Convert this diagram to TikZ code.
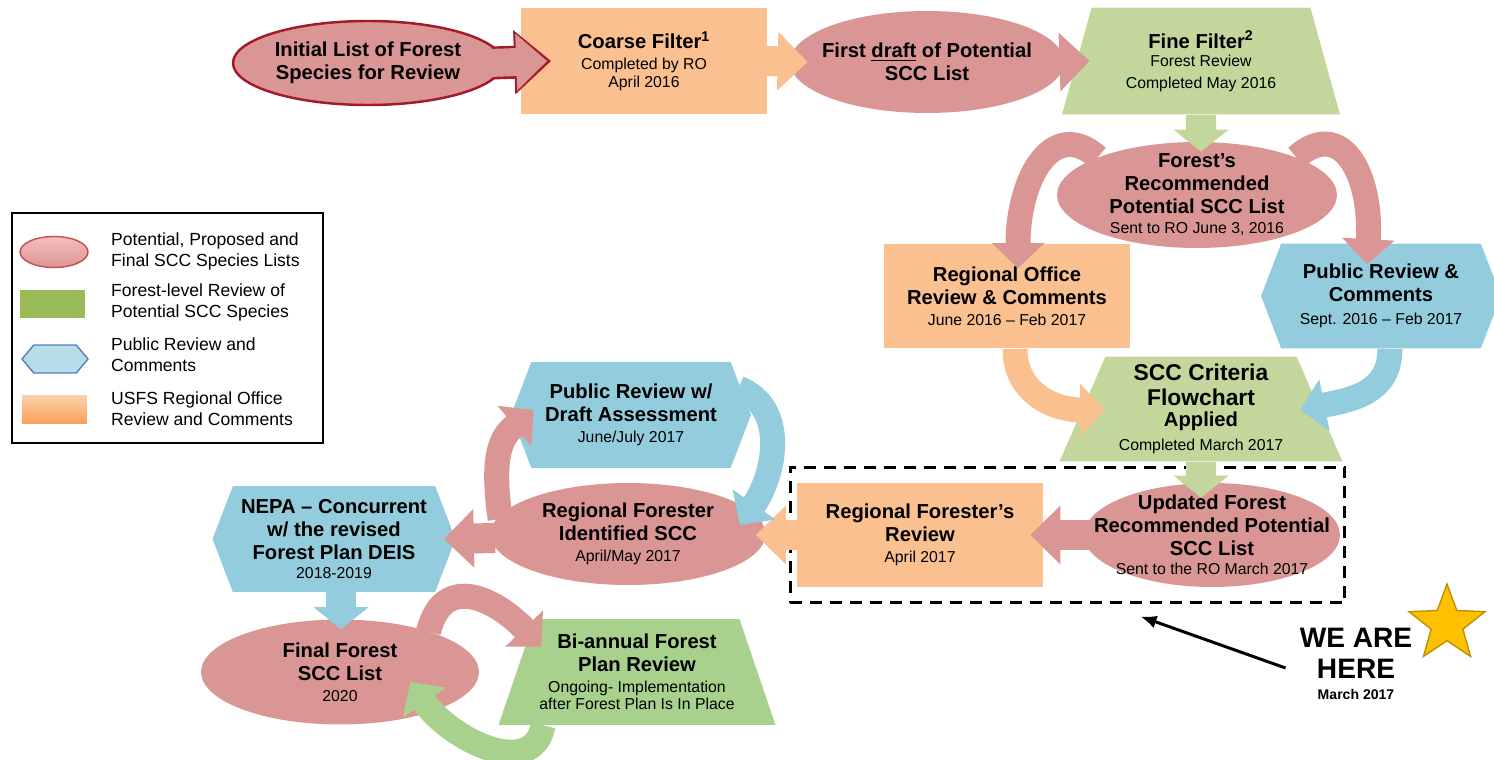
\documentclass[tikz,border=0pt]{standalone}
\usepackage{fontspec}
\setmainfont{Liberation Sans}
\usetikzlibrary{shapes.geometric,shapes.symbols,arrows.meta,calc}

\definecolor{listpink}{RGB}{217,150,148}
\definecolor{listred}{RGB}{165,25,45}
\definecolor{offorange}{RGB}{250,192,144}
\definecolor{revgreen}{RGB}{195,214,155}
\definecolor{plangreen}{RGB}{169,209,142}
\definecolor{pubblue}{RGB}{147,205,221}
\definecolor{legred}{RGB}{192,80,77}
\definecolor{legpinklight}{RGB}{245,190,188}
\definecolor{leggreen}{RGB}{155,187,89}
\definecolor{legblue}{RGB}{183,221,232}
\definecolor{legblueline}{RGB}{79,129,189}
\definecolor{legorangelight}{RGB}{252,210,172}
\definecolor{legorange}{RGB}{247,160,90}
\definecolor{stargold}{RGB}{255,192,0}
\definecolor{stargoldline}{RGB}{191,144,0}

\newcommand{\when}[1]{{\fontsize{9}{13}\selectfont\mdseries #1}}

\tikzset{
  lst/.style={ellipse, fill=listpink, inner xsep=-1cm, inner ysep=-0.5cm, align=center},
  office/.style={rectangle, fill=offorange, inner sep=0pt, align=center},
  review/.style={trapezium, trapezium stretches body, fill=revgreen, inner sep=0pt, align=center},
  public/.style={signal, signal to=east and west, signal pointer angle=138, fill=pubblue, inner sep=0pt, align=center},
  flowarr/.style={line width=0.6cm, -{Triangle[width=1.14cm,length=0.6cm]}},
  curvearr/.style={line width=0.5cm, -{Triangle[width=1.02cm,length=0.5cm]}},
  legtxt/.style={anchor=west, align=left, font=\fontsize{10}{12}\selectfont}
}

\begin{document}
\begin{tikzpicture}[x=0.02cm,y=-0.02cm,font=\fontsize{11.5}{13}\selectfont\bfseries]
\useasboundingbox (0,0) rectangle (1494,760);
%Legende
\node[draw, line width=1pt, minimum width=6.22cm, minimum height=4.6cm] (legend) at (167.5,328) {};
\node[ellipse, top color=legpinklight, bottom color=listpink, draw=legred, line width=0.8pt, minimum width=1.36cm, minimum height=0.62cm] (legell) at (54,252) {};
\node[trapezium, trapezium stretches body, trapezium left angle=63, trapezium right angle=63, fill=leggreen, minimum width=1.3cm, minimum height=0.56cm, inner sep=0pt] (legtrap) at (52.5,304) {};
\node[signal, signal to=east and west, signal pointer angle=100, fill=legblue, draw=legblueline, line width=0.8pt, minimum width=1.32cm, minimum height=0.56cm, inner sep=0pt] (leghex) at (55,359) {};
\node[top color=legorangelight, bottom color=legorange, minimum width=1.3cm, minimum height=0.58cm, inner sep=0pt] (legrect) at (54.5,409.5) {};
\node[legtxt] (legt1) at (105,251.5) {Potential, Proposed and\\Final SCC Species Lists};
\node[legtxt] (legt2) at (105,302) {Forest-level Review of\\Potential SCC Species};
\node[legtxt] (legt3) at (105,355) {Public Review and\\Comments};
\node[legtxt] (legt4) at (105,408.5) {USFS Regional Office\\Review and Comments};

%Etapes du processus
\node[lst, draw=listred, line width=1.4pt, minimum width=5.4cm, minimum height=1.68cm] (init) at (368,63) {Initial List of Forest\\Species for Review};
\node[office, minimum width=4.94cm, minimum height=2.14cm] (coarse) at (644,61) {Coarse Filter\textsuperscript{1}\\[-1pt]\when{Completed by RO}\\[-3pt]\when{April 2016}};
\node[lst, minimum width=5.48cm, minimum height=2.04cm] (draft) at (927,62) {First \underline{draft} of Potential\\SCC List};
\node[review, trapezium left angle=64, trapezium right angle=64, minimum width=5.56cm, minimum height=2.14cm] (fine) at (1201,61) {Fine Filter\textsuperscript{2}\\[-2.8pt]\when{Forest Review}\\[-0.5pt]\when{Completed May 2016}};
\node[lst, minimum width=5.6cm, minimum height=2.12cm] (recom) at (1197,195) {Forest’s\\Recommended\\Potential SCC List\\[-1.5pt]\when{Sent to RO June 3, 2016}};
\node[office, minimum width=4.92cm, minimum height=2.1cm] (rooffice) at (1007,296) {Regional Office\\Review \& Comments\\[-1pt]\when{June 2016 – Feb 2017}};
\node[public, minimum width=4.8cm, minimum height=2.1cm] (pubrev) at (1381,296) {Public Review \&\\Comments\\[0pt]\when{Sept. 2016 – Feb 2017}};
\node[review, trapezium left angle=63, trapezium right angle=63, minimum width=5.66cm, minimum height=2.1cm] (criteria) at (1201,409) {{\fontsize{13}{15}\selectfont SCC Criteria}\\[1pt]{\fontsize{13}{15}\selectfont Flowchart}\\[-1pt]Applied\\[1pt]\when{Completed March 2017}};
\node[lst, minimum width=5.12cm, minimum height=2.08cm] (updated) at (1212,535) {Updated Forest\\Recommended Potential\\SCC List\\[-2pt]\when{Sent to the RO March 2017}};
\node[office, minimum width=4.92cm, minimum height=2.1cm] (rfreview) at (920,535) {Regional Forester’s\\Review\\[-1pt]\when{April 2017}};
\node[lst, minimum width=5.5cm, minimum height=2.04cm] (rfident) at (628,534) {Regional Forester\\Identified SCC\\[-1pt]\when{April/May 2017}};
\node[public, minimum width=4.8cm, minimum height=2.12cm] (pubdraft) at (631,415) {Public Review w/\\Draft Assessment\\[-1pt]\when{June/July 2017}};
\node[public, minimum width=4.86cm, minimum height=2.12cm] (nepa) at (334,539) {NEPA – Concurrent\\w/ the revised\\Forest Plan DEIS\\[-2pt]\when{2018-2019}};
\node[lst, minimum width=5.56cm, minimum height=2.1cm] (final) at (340,672) {Final Forest\\SCC List\\[-1pt]\when{2020}};
\node[review, fill=plangreen, trapezium left angle=64.7, trapezium right angle=64.7, minimum width=5.54cm, minimum height=2.12cm] (biannual) at (637,672) {Bi-annual Forest\\Plan Review\\[-1pt]\when{Ongoing- Implementation}\\[-3pt]\when{after Forest Plan Is In Place}};

%Cadre et etoile
\node[draw, dash pattern=on 0.24cm off 0.16cm, line width=1.7pt, minimum width=11.1cm, minimum height=2.72cm] (frame) at (1067.5,535) {};
\node[star, star points=5, star point ratio=2.4, fill=stargold, draw=stargoldline, line width=0.8pt, minimum size=1.6cm, inner sep=0pt] (star) at (1447,624) {};
\node[align=center, font=\fontsize{16}{17.6}\selectfont\bfseries] (here) at (1356,664) {WE ARE\\HERE\\[-6pt]{\fontsize{8}{17.6}\selectfont March 2017}};

%Fleches droites
\draw[listred, line width=0.66cm, -{Triangle[width=1.24cm,length=0.74cm]}] ($(init.east)+(-12,0)$) -- ($(coarse.west)+(31,0)$);
\draw[listpink, line width=0.56cm, -{Triangle[width=1.1cm,length=0.62cm]}] ($(init.east)+(-15,0)$) -- ($(coarse.west)+(27,0)$);
\draw[flowarr, offorange] ($(coarse.east)+(-2,0)$) -- ($(draft.west)+(18,0)$);
\draw[flowarr, listpink] ($(draft.east)+(-5,0)$) -- ($(fine.west)+(13,0)$);
\draw[flowarr, revgreen, -{Triangle[width=1.08cm,length=0.44cm]}] (fine.south) -- ($(recom.north)+(4,10)$);
\draw[flowarr, revgreen, -{Triangle[width=1.08cm,length=0.44cm]}] (criteria.south) -- ($(updated.north)+(-11,15)$);
\draw[flowarr, listpink] ($(updated.west)+(5,0)$) -- ($(rfreview.east)+(-13,0)$);
\draw[flowarr, offorange] ($(rfreview.west)+(2,0)$) -- ($(rfident.east)+(-10,1)$);
\draw[flowarr, listpink] ($(rfident.west)+(5,4)$) -- ($(nepa.east)+(-12,0)$);
\draw[flowarr, pubblue, -{Triangle[width=1.08cm,length=0.44cm]}] ($(nepa.south)+(7,0)$) -- ($(final.north)+(1,10)$);

%Fleches courbes
\draw[curvearr, listpink] (recom.north west) .. controls +(-45,-40) and +(0,-90) .. ($(rooffice.north)+(11,25)$);
\draw[curvearr, listpink] (recom.north east) .. controls +(45,-40) and +(5,-90) .. ($(pubrev.north)+(-14,21)$);
\draw[curvearr, offorange] ($(rooffice.south)+(8,0)$) .. controls +(0,45) and +(-50,0) .. ($(criteria.west)+(23,1)$);
\draw[curvearr, pubblue] ($(pubrev.south)+(9,0)$) .. controls +(0,45) and +(50,-10) .. ($(criteria.east)+(-20,1)$);
\draw[curvearr, listpink] ($(rfident.west)+(10,-15)$) .. controls +(-10,-70) and +(-30,25) .. ($(pubdraft.west)+(23,-5)$);
\draw[curvearr, pubblue] ($(pubdraft.east)+(-13,-27)$) .. controls +(50,20) and +(35,-50) .. ($(rfident.east)+(-26,-9)$);
\draw[curvearr, listpink] ($(final.north east)+(-10,-3)$) .. controls +(15,-60) and +(-45,-47) .. ($(biannual.top left corner)+(7,28)$);
\draw[curvearr, plangreen] ($(biannual.bottom left corner)+(45,0)$) .. controls +(-10,55) and +(40,58) .. ($(final.east)+(-69,10)$);

%Nous sommes ici
\draw[line width=1.7pt, -{Latex[length=0.32cm,width=0.26cm]}] ($(here.west)+(-8,4)$) -- ($(frame.south)+(73,12)$);
\end{tikzpicture}
\end{document}
